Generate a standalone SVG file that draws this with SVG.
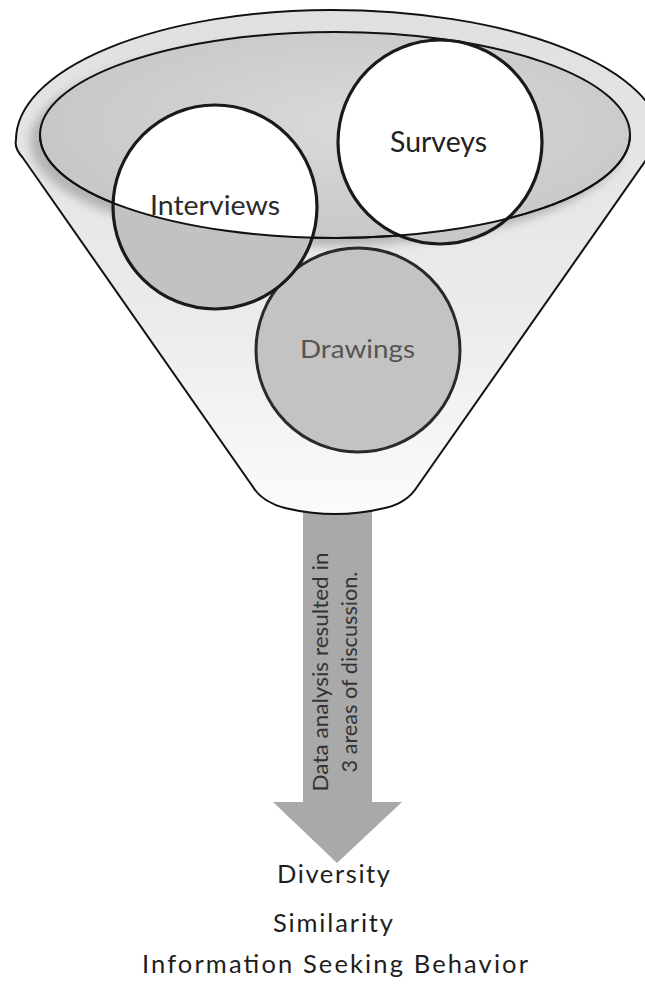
<svg xmlns="http://www.w3.org/2000/svg" width="645" height="993" viewBox="0 0 645 993">
  <style>
    .lbl { font-family: Lato, "Open Sans", "Liberation Sans", sans-serif; }
    .ring { stroke: #1a1a1a; stroke-width: 3.2; }
    .rim { fill: none; stroke: #111; stroke-width: 2; }
    .out { font-size: 25.5px; fill: #1e1e1e; text-anchor: middle; }
  </style>
  <defs>
    <linearGradient id="wallFill" x1="0" y1="0" x2="0" y2="1">
      <stop offset="0" stop-color="#e0e0e0"/>
      <stop offset="0.6" stop-color="#ebebeb"/>
      <stop offset="1" stop-color="#fbfbfb"/>
    </linearGradient>
    <radialGradient id="mouthFill" cx="0.55" cy="0.45" r="0.6">
      <stop offset="0" stop-color="#dadada"/>
      <stop offset="1" stop-color="#c6c6c6"/>
    </radialGradient>
    <filter id="soft" x="-10%" y="-20%" width="120%" height="140%">
      <feGaussianBlur stdDeviation="5"/>
    </filter>
    <path id="funnelShape" d="M16,140 A315,130 0 0 1 331,10 A330,130 0 0 1 661,140 L660,140 L417,487 Q407,503 385,508 Q335,520 285,508 Q262,502 253,487 L23,158 Q14,148 16,140 Z"/>
    <clipPath id="funnelClip">
      <use href="#funnelShape"/>
    </clipPath>
    <clipPath id="mouthClip">
      <ellipse cx="335" cy="135" rx="295" ry="103"/>
    </clipPath>
  </defs>

  <!-- downward arrow leaving the funnel -->
  <g id="connectors">
    <g id="arrow">
      <polygon points="303,505 372,505 372,802 402,802 337,863 273,802 303,802" fill="#a9a9a9"/>
      <text class="lbl" transform="translate(328,672) rotate(-90)" font-size="21" fill="#333" text-anchor="middle" textLength="239" lengthAdjust="spacingAndGlyphs">Data analysis resulted in</text>
      <text class="lbl" transform="translate(357,672) rotate(-90)" font-size="21" fill="#333" text-anchor="middle" textLength="201" lengthAdjust="spacingAndGlyphs">3 areas of discussion.</text>
    </g>
  </g>

  <!-- funnel body and mouth -->
  <g id="funnel">
    <use href="#funnelShape" fill="url(#wallFill)" stroke="#111" stroke-width="2"/>
    <g clip-path="url(#funnelClip)">
      <ellipse cx="327" cy="142" rx="297" ry="104" fill="#b4b4b4" filter="url(#soft)"/>
    </g>
    <ellipse cx="335" cy="135" rx="295" ry="103" fill="url(#mouthFill)" stroke="#111" stroke-width="2"/>
  </g>

  <g id="drawings">
    <circle cx="358" cy="350" r="102" fill="#c3c3c3" stroke="#2a2a2a" stroke-width="3"/>
    <text class="lbl" x="357.5" y="358" font-size="25" fill="#555" text-anchor="middle" textLength="115" lengthAdjust="spacingAndGlyphs">Drawings</text>
  </g>

  <g id="interviews">
    <circle cx="215" cy="207" r="102" fill="#c2c2c2"/>
    <circle cx="215" cy="207" r="102" fill="#fff" clip-path="url(#mouthClip)"/>
    <circle cx="215" cy="207" r="102" fill="none" class="ring"/>
    <text class="lbl" x="215" y="215" font-size="26" fill="#2a2a2a" text-anchor="middle" textLength="130" lengthAdjust="spacingAndGlyphs">Interviews</text>
  </g>

  <g id="surveys">
    <circle cx="440" cy="142" r="102" fill="#c8c8c8"/>
    <circle cx="440" cy="142" r="102" fill="#fff" clip-path="url(#mouthClip)"/>
    <circle cx="440" cy="142" r="102" fill="none" class="ring"/>
    <text class="lbl" x="438.5" y="152" font-size="28" fill="#222" text-anchor="middle" textLength="97" lengthAdjust="spacingAndGlyphs">Surveys</text>
  </g>

  <!-- front lip of the funnel mouth passes over the circles -->
  <path id="mouth-lip" class="rim" d="M40,135 A295,103 0 0 0 630,135"/>

  <g id="outcomes">
    <text class="lbl out" x="333.5" y="883" textLength="113" lengthAdjust="spacing">Diversity</text>
    <text class="lbl out" x="333" y="932" textLength="120" lengthAdjust="spacing">Similarity</text>
    <text class="lbl out" x="335" y="973" textLength="386" lengthAdjust="spacing">Information Seeking Behavior</text>
  </g>
</svg>
